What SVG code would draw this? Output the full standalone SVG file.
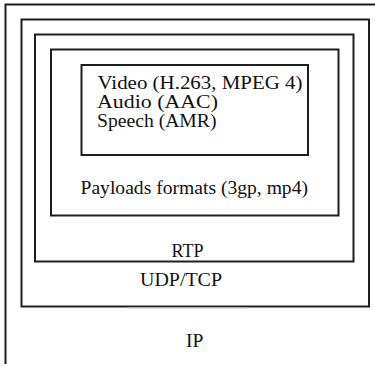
<svg xmlns="http://www.w3.org/2000/svg" width="375" height="366" viewBox="0 0 375 366">
<style>
.box{fill:none;stroke:#1e1e1e;stroke-width:2}
.t{font-family:"Liberation Serif","Times New Roman",serif;font-size:19.5px;fill:#111}
</style>
<rect width="375" height="366" fill="#fff"/>
<g id="ip">
<path class="box" d="M5.5,364 V4.5 H375"/>
<text class="t" x="186" y="347">IP</text>
</g>
<g id="udptcp">
<rect class="box" x="21.5" y="19.5" width="347.5" height="287"/>
<line x1="127" y1="308" x2="247" y2="308" stroke="#c8c8c8" stroke-width="1"/>
<text class="t" x="140" y="285.5" textLength="82" lengthAdjust="spacingAndGlyphs">UDP/TCP</text>
</g>
<g id="rtp">
<rect class="box" x="35" y="34.5" width="318.5" height="227"/>
<text class="t" x="171.5" y="257" textLength="32" lengthAdjust="spacingAndGlyphs">RTP</text>
</g>
<g id="payloads">
<rect class="box" x="51" y="49.5" width="287.5" height="166"/>
<text class="t" x="80.5" y="193.5" textLength="227.5" lengthAdjust="spacingAndGlyphs">Payloads formats (3gp, mp4)</text>
</g>
<g id="codecs">
<rect class="box" x="81.5" y="65" width="226.5" height="90"/>
<text class="t" x="97.5" y="89" textLength="205" lengthAdjust="spacingAndGlyphs">Video (H.263, MPEG 4)</text>
<text class="t" x="97" y="108" textLength="121" lengthAdjust="spacingAndGlyphs">Audio (AAC)</text>
<text class="t" x="97" y="127" textLength="119.5" lengthAdjust="spacingAndGlyphs">Speech (AMR)</text>
</g>
<g id="connectors"></g>
</svg>
